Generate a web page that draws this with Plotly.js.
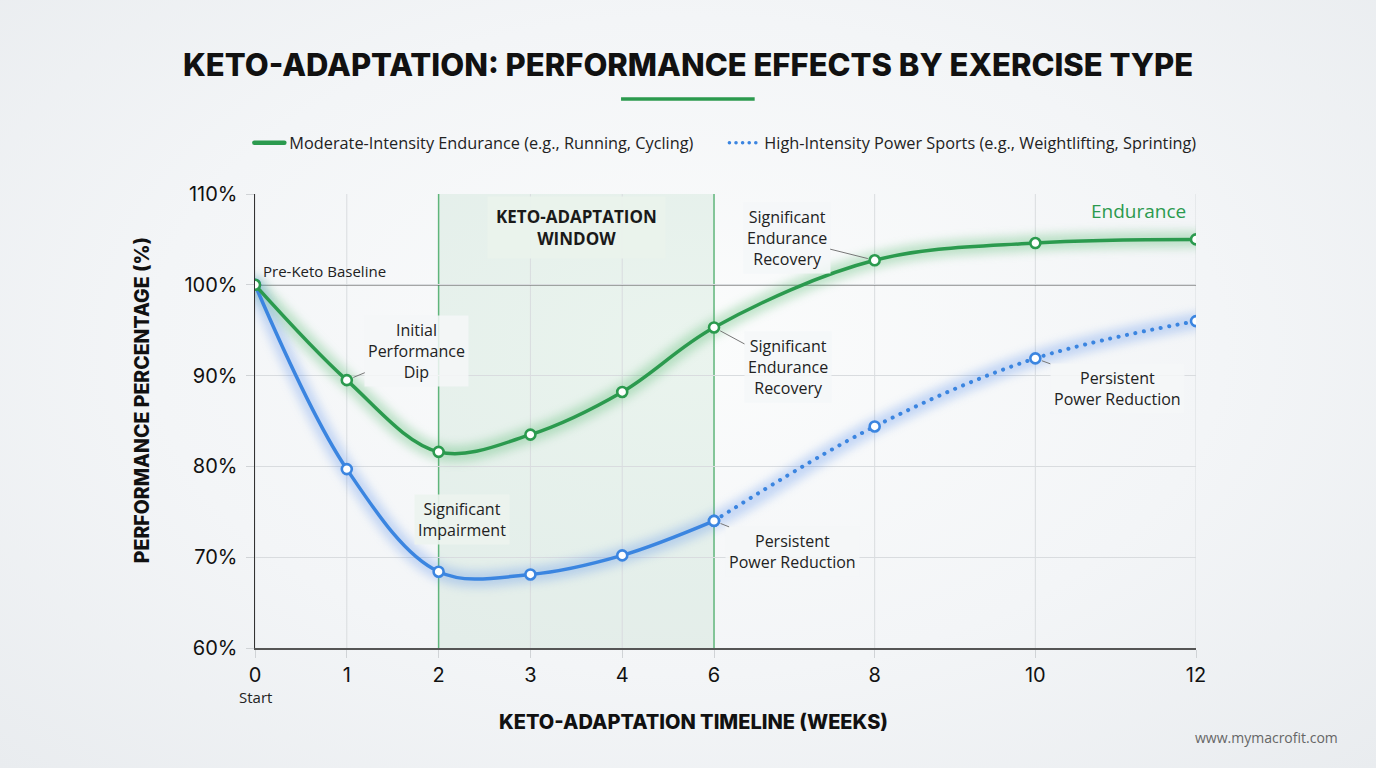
<!DOCTYPE html>
<html>
<head>
<meta charset="utf-8">
<script src="https://cdn.plot.ly/plotly-3.0.1.min.js"></script>
<style>
  html, body { margin: 0; padding: 0; }
  body {
    width: 1376px; height: 768px; overflow: hidden;
    background: radial-gradient(ellipse at 50% 45%, #fbfcfc 0%, #f3f5f7 55%, #e9ecef 100%);
  }
  #chart { width: 1376px; height: 768px; }
  /* soft halo under the two main curves */
  .scatterlayer .trace:nth-child(-n+2) path.js-line { filter: blur(5px); }
  /* round dots for the dotted segment */
  path.js-line { stroke-linecap: round; stroke-linejoin: round; }
</style>
</head>
<body>
<div id="chart"></div>
<script>
// Timeline (weeks) and performance relative to pre-keto baseline (%)
const weeks = [0, 1, 2, 3, 4, 6, 8, 10, 12];
const weekLabels = ['0', '1', '2', '3', '4', '6', '8', '10', '12'];
const endurance = [100, 89.5, 81.6, 83.5, 88.2, 95.3, 102.7, 104.6, 105.0];
const power = [100, 79.7, 68.4, 68.1, 70.2, 74.0, 84.4, 91.9, 96.0];
const pctTicks = [60, 70, 80, 90, 100, 110];
const pctLabels = pctTicks.map(v => v + '%');

const seriesNames = [
  'Moderate-Intensity Endurance (e.g., Running, Cycling)',
  'High-Intensity Power Sports (e.g., Weightlifting, Sprinting)'
];

const baseline = 100;
const windowStart = 2, windowEnd = 6;   // keto-adaptation window (weeks)
const dottedFrom = 6;                   // power curve is projected after week 6

// Piecewise time axis: weekly steps up to week 4, compressed afterwards
function axisPos(w) {
  if (w <= 4) return w;
  if (w <= 6) return 4 + (w - 4) * 0.5;
  return 5 + (w - 6) * 0.875;
}

const xs = weeks.map(axisPos);
const GREEN = '#2b9a4e';
const BLUE = '#3b85e0';
const split = weeks.indexOf(dottedFrom);

const marker = c => ({ size: 10, color: '#ffffff', line: { color: c, width: 2.6 } });

const traces = [
  // halos
  { x: xs, y: endurance, mode: 'lines', line: { color: 'rgba(60,175,90,0.30)', width: 16, shape: 'spline' }, hoverinfo: 'skip', showlegend: false },
  { x: xs, y: power, mode: 'lines', line: { color: 'rgba(70,130,235,0.28)', width: 16, shape: 'spline' }, hoverinfo: 'skip', showlegend: false },
  // power sports: measured (solid) then projected (dotted)
  { x: xs.slice(0, split + 1), y: power.slice(0, split + 1), mode: 'lines+markers',
    line: { color: BLUE, width: 3.5, shape: 'spline' }, marker: marker(BLUE), showlegend: false },
  { x: xs.slice(split), y: power.slice(split), mode: 'lines+markers',
    line: { color: BLUE, width: 4, shape: 'spline', dash: '0.1px,8.5px' }, marker: marker(BLUE), showlegend: false },
  // endurance
  { x: xs, y: endurance, mode: 'lines+markers',
    line: { color: GREEN, width: 3.5, shape: 'spline' }, marker: marker(GREEN), showlegend: false },
  // legend entries
  { x: [null], y: [null], mode: 'lines', name: seriesNames[0], line: { color: GREEN, width: 4.5 } },
  { x: [null], y: [null], mode: 'lines', name: seriesNames[1], line: { color: BLUE, width: 3.5, dash: '0.1px,6.5px' } }
];

const noteFont = { family: 'Open Sans, sans-serif', size: 16, color: '#222' };
const noteBg = 'rgba(245,247,248,0.85)';
const leader = { showarrow: true, arrowhead: 0, arrowwidth: 1, arrowcolor: '#777', standoff: 7 };

const annotations = [
  { x: xs[0], y: baseline, text: 'Pre-Keto Baseline', showarrow: false, xanchor: 'left', yanchor: 'bottom',
    xshift: 6, yshift: 2, font: { family: 'Open Sans, sans-serif', size: 15, color: '#222' } },
  Object.assign({ x: xs[1], y: endurance[1], ax: 70, ay: -29, text: 'Initial<br>Performance<br>Dip',
    font: noteFont, bgcolor: noteBg, borderpad: 3 }, leader),
  Object.assign({ x: xs[6], y: endurance[6], ax: -88, ay: -22, text: 'Significant<br>Endurance<br>Recovery',
    font: noteFont, bgcolor: noteBg, borderpad: 3 }, leader),
  Object.assign({ x: xs[5], y: endurance[5], ax: 74, ay: 40, text: 'Significant<br>Endurance<br>Recovery',
    font: noteFont, bgcolor: noteBg, borderpad: 3 }, leader),
  Object.assign({ x: xs[5], y: power[5], ax: 78, ay: 31, text: 'Persistent<br>Power Reduction',
    font: noteFont, bgcolor: noteBg, borderpad: 3 }, leader),
  Object.assign({ x: xs[7], y: power[7], ax: 82, ay: 30, text: 'Persistent<br>Power Reduction',
    font: noteFont, bgcolor: noteBg, borderpad: 3 }, leader),
  { x: xs[2], y: 74.2, xshift: 23, text: 'Significant<br>Impairment', showarrow: false,
    font: noteFont, bgcolor: 'rgba(236,243,238,0.9)', borderpad: 3 },
  { x: xs[xs.length - 1], y: 108.1, xshift: -8, xanchor: 'right', text: 'Endurance', showarrow: false,
    font: { family: 'Open Sans, sans-serif', size: 19, color: GREEN } },
  { x: (axisPos(windowStart) + axisPos(windowEnd)) / 2, y: 106.3, text: 'KETO-ADAPTATION<br>WINDOW',
    showarrow: false, bgcolor: 'rgba(234,242,236,0.95)', borderpad: 8,
    font: { family: 'Open Sans, sans-serif', size: 17, color: '#1a1a1a', weight: 700 } },
  // axis titles
  { xref: 'paper', yref: 'paper', x: -0.12, y: 0.546, xanchor: 'center', yanchor: 'middle', textangle: -90, showarrow: false,
    text: 'PERFORMANCE PERCENTAGE (%)', font: { family: 'Inter, sans-serif', size: 19.5, color: '#111', weight: 800 } },
  { xref: 'paper', yref: 'paper', x: 0.4655, y: -0.163, xanchor: 'center', yanchor: 'middle', showarrow: false,
    text: 'KETO-ADAPTATION TIMELINE (WEEKS)', font: { family: 'Inter, sans-serif', size: 20, color: '#111', weight: 800 } },
  { x: xs[0], yref: 'paper', y: -0.108, yanchor: 'middle', showarrow: false, text: 'Start',
    font: { family: 'Open Sans, sans-serif', size: 15, color: '#222' } },
  { xref: 'paper', yref: 'paper', x: 1.153, y: -0.198, xanchor: 'right', yanchor: 'middle', showarrow: false,
    text: 'www.mymacrofit.com', font: { family: 'Open Sans, sans-serif', size: 14, color: '#666' } }
];

// Vertical week gridlines; the two window boundaries are drawn in green
const isWindowEdge = w => w === windowStart || w === windowEnd;
const weekGrid = weeks.map(w => ({
  type: 'line', xref: 'x', yref: 'paper', x0: axisPos(w), x1: axisPos(w), y0: 0, y1: 1,
  line: isWindowEdge(w) ? { color: '#5fb57b', width: 1.5 } : { color: '#d9dcdf', width: 1 },
  layer: 'below'
}));

const shapes = [
  { type: 'rect', xref: 'x', yref: 'paper', x0: axisPos(windowStart), x1: axisPos(windowEnd), y0: 0, y1: 1,
    fillcolor: 'rgba(70,165,95,0.09)', line: { color: 'rgba(0,0,0,0)', width: 0 }, layer: 'below' },
  ...weekGrid,
  { type: 'line', xref: 'paper', yref: 'y', x0: 0, x1: 1, y0: baseline, y1: baseline,
    line: { color: '#555', width: 1.2 }, layer: 'below' },
  // title accent
  { type: 'line', xref: 'paper', yref: 'paper', x0: 0.389, x1: 0.531, y0: 1.209, y1: 1.209,
    line: { color: GREEN, width: 3.5 } }
];

const layout = {
  width: 1376, height: 768,
  margin: { l: 255, r: 180, t: 194, b: 120 },
  paper_bgcolor: 'rgba(0,0,0,0)',
  plot_bgcolor: 'rgba(0,0,0,0)',
  font: { family: 'Open Sans, sans-serif', color: '#222' },
  title: {
    text: 'KETO-ADAPTATION: PERFORMANCE EFFECTS BY EXERCISE TYPE',
    x: 0.5, xref: 'container', y: 1 - 65 / 768, yref: 'container', yanchor: 'middle',
    font: { family: 'Inter, sans-serif', size: 31, color: '#111', weight: 800 }
  },
  showlegend: true,
  legend: {
    orientation: 'h', x: -0.006, xanchor: 'left', y: 1.112, yanchor: 'middle',
    entrywidth: 430, entrywidthmode: 'pixels',
    font: { family: 'Open Sans, sans-serif', size: 16.3, color: '#222' },
    bgcolor: 'rgba(0,0,0,0)', traceorder: 'normal'
  },
  xaxis: {
    range: [0, axisPos(weeks[weeks.length - 1])],
    tickmode: 'array', tickvals: xs, ticktext: weekLabels,
    showgrid: false,
    zeroline: false, showline: true, linecolor: '#555', linewidth: 2,
    ticks: 'outside', ticklen: 8, tickcolor: '#d0d3d6',
    tickfont: { family: 'Inter, sans-serif', size: 20, color: '#111' },
    fixedrange: true
  },
  yaxis: {
    range: [60, 110],
    tickmode: 'array', tickvals: pctTicks, ticktext: pctLabels,
    showgrid: true, gridcolor: '#d9dcdf', gridwidth: 1,
    zeroline: false, showline: true, linecolor: '#333', linewidth: 1.5,
    ticks: 'outside', ticklen: 8, tickcolor: '#d0d3d6', ticklabelstandoff: 4,
    tickfont: { family: 'Inter, sans-serif', size: 20, color: '#111' },
    fixedrange: true
  },
  shapes: shapes,
  annotations: annotations
};

Plotly.newPlot('chart', traces, layout, { displayModeBar: false, staticPlot: true });
</script>
</body>
</html>
